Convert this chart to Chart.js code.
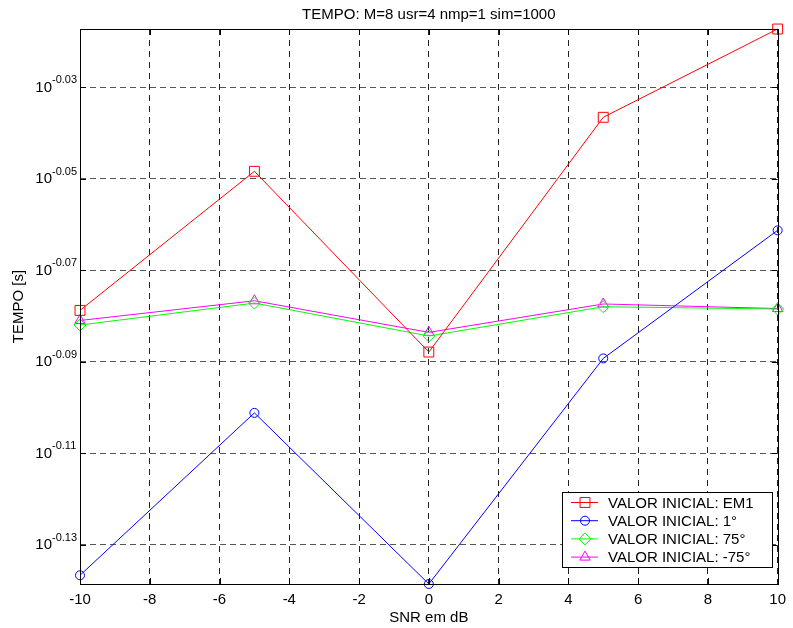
<!DOCTYPE html>
<html>
<head>
<meta charset="utf-8">
<script src="https://cdn.jsdelivr.net/npm/chart.js@4"></script>
<style>
  html, body { margin: 0; padding: 0; background: #fff; }
  #wrap { width: 793px; height: 628px; position: relative; }
</style>
</head>
<body>
<div id="wrap"><canvas id="chart"></canvas></div>
<script>
// x: SNR em dB, y: log10 of TEMPO [s] (plot uses a log axis, values read as exponents)
const snr = [-10, -5, 0, 5, 10];
const tempoEM1 = [-0.0788, -0.0484, -0.0879, -0.0366, -0.0173];
const tempo1 = [-0.1367, -0.1012, -0.1386, -0.0893, -0.0613];
const tempo75 = [-0.0820, -0.0772, -0.0844, -0.0780, -0.0785];
const tempoM75 = [-0.0810, -0.0767, -0.0836, -0.0774, -0.0784];

const xTicks = [-10, -8, -6, -4, -2, 0, 2, 4, 6, 8, 10];
const yTicks = [-0.13, -0.11, -0.09, -0.07, -0.05, -0.03];
const yMin = -0.1386;
const yMax = -0.0173;

const labels = ["VALOR INICIAL: EM1", "VALOR INICIAL: 1°", "VALOR INICIAL: 75°", "VALOR INICIAL: -75°"];
const colors = ["#ff0000", "#0000ff", "#00ff00", "#ff00ff"];
const markers = ["rect", "circle", "rectRot", "triangle"];
const radii = [7, 4.5, 6, 6];
const series = [tempoEM1, tempo1, tempo75, tempoM75];

const FONT = "Arial, 'Liberation Sans', Helvetica, sans-serif";

const datasets = series.map((vals, i) => ({
    label: labels[i],
    data: snr.map((x, j) => ({ x: x, y: vals[j] })),
    borderColor: colors[i],
    backgroundColor: "transparent",
    borderWidth: 1,
    pointStyle: markers[i],
    pointRadius: radii[i],
    pointBorderWidth: 1,
    pointBorderColor: colors[i],
    pointBackgroundColor: "transparent",
    tension: 0,
    clip: false,
}));

const matlabLook = {
    id: "matlabLook",
    afterDraw(chart) {
        const ctx = chart.ctx;
        const a = chart.chartArea;
        const xs = chart.scales.x;
        const ys = chart.scales.y;
        ctx.save();

        // axes box
        ctx.strokeStyle = "#000";
        ctx.lineWidth = 1;
        ctx.setLineDash([]);
        ctx.strokeRect(Math.round(a.left) + 0.5, Math.round(a.top) + 0.5,
            Math.round(a.right - a.left), Math.round(a.bottom - a.top));

        // inner tick marks
        ctx.beginPath();
        xTicks.forEach(v => {
            const px = Math.round(xs.getPixelForValue(v)) + 0.5;
            ctx.moveTo(px, a.bottom); ctx.lineTo(px, a.bottom - 6);
            ctx.moveTo(px, a.top); ctx.lineTo(px, a.top + 6);
        });
        yTicks.forEach(v => {
            const py = Math.round(ys.getPixelForValue(v)) + 0.5;
            ctx.moveTo(a.left, py); ctx.lineTo(a.left + 6, py);
            ctx.moveTo(a.right, py); ctx.lineTo(a.right - 6, py);
        });
        ctx.stroke();

        // y tick labels as 10^exp
        ctx.fillStyle = "#000";
        ctx.textBaseline = "alphabetic";
        yTicks.forEach(v => {
            const py = ys.getPixelForValue(v);
            ctx.font = "15px " + FONT;
            ctx.textAlign = "right";
            ctx.fillText("10", 52, py + 4.5);
            ctx.font = "11px " + FONT;
            ctx.textAlign = "left";
            ctx.fillText(v.toFixed(2), 52, py - 4);
        });

        // title and axis labels
        ctx.font = "15px " + FONT;
        ctx.textAlign = "center";
        ctx.fillText("TEMPO: M=8 usr=4 nmp=1 sim=1000", (a.left + a.right) / 2, 18.5);
        ctx.fillText("SNR em dB", (a.left + a.right) / 2, 622);
        ctx.save();
        ctx.translate(23, (a.top + a.bottom) / 2);
        ctx.rotate(-Math.PI / 2);
        ctx.fillText("TEMPO [s]", 0, 0);
        ctx.restore();

        // legend box
        const lx = 562, ly = 492, lw = 210, lh = 75;
        ctx.fillStyle = "#fff";
        ctx.fillRect(lx, ly, lw, lh);
        ctx.strokeStyle = "#000";
        ctx.strokeRect(lx + 0.5, ly + 0.5, lw, lh);
        labels.forEach((txt, i) => {
            const cy = 502.5 + i * 18.2;
            ctx.strokeStyle = colors[i];
            ctx.lineWidth = 1;
            ctx.beginPath();
            ctx.moveTo(571, cy); ctx.lineTo(598, cy);
            ctx.stroke();
            ctx.fillStyle = "rgba(0,0,0,0)";
            Chart.helpers.drawPoint(ctx, {
                pointStyle: markers[i], radius: radii[i], borderWidth: 1, rotation: 0,
            }, 585, cy);
            ctx.fillStyle = "#000";
            ctx.font = "15px " + FONT;
            ctx.textAlign = "left";
            ctx.textBaseline = "middle";
            ctx.fillText(txt, 608, cy + 1);
        });
        ctx.restore();
    },
};

new Chart(document.getElementById("chart"), {
    type: "line",
    data: { datasets: datasets },
    options: {
        responsive: true,
        maintainAspectRatio: false,
        animation: false,
        layout: { padding: { top: 29, right: 8, left: 0, bottom: 0 } },
        plugins: {
            legend: { display: false },
            title: { display: false },
            tooltip: { enabled: false },
        },
        scales: {
            x: {
                type: "linear",
                min: -10,
                max: 10,
                afterBuildTicks: (scale) => {
                    scale.ticks = xTicks.map(v => ({ value: v }));
                },
                afterFit: (scale) => { scale.height = 44; },
                border: { display: false, dash: [6, 5] },
                grid: {
                    color: "#222",
                    lineWidth: 1,
                    drawTicks: false,
                },
                ticks: {
                    color: "#000",
                    font: { family: FONT, size: 15 },
                    padding: 7,
                    maxRotation: 0,
                    autoSkip: false,
                },
            },
            y: {
                type: "linear",
                min: yMin,
                max: yMax,
                afterBuildTicks: (scale) => {
                    scale.ticks = yTicks.map(v => ({ value: v }));
                },
                afterFit: (scale) => { scale.width = 80; },
                border: { display: false, dash: [6, 4] },
                grid: {
                    color: "#555",
                    lineWidth: 1,
                    drawTicks: false,
                },
                ticks: { display: false },
            },
        },
    },
    plugins: [matlabLook],
});
</script>
</body>
</html>
